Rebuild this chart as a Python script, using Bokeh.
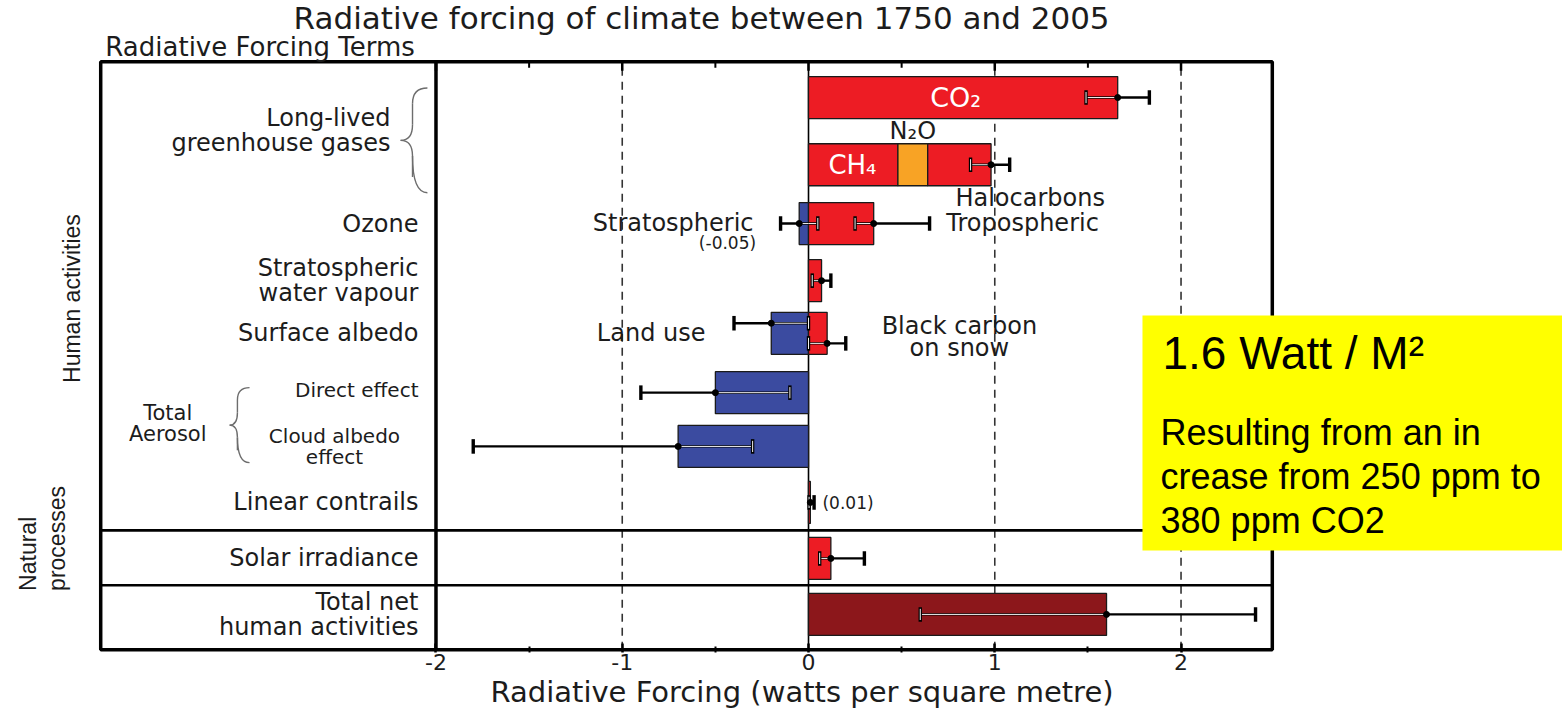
import numpy as np
from bokeh.plotting import figure
from bokeh.models import Range1d, FixedTicker, Title
from bokeh.core.properties import value
from bokeh.embed import file_html
from bokeh.resources import INLINE

# ------------------------------------------------------------------ data
terms = ["CO₂", "CH₄", "N₂O", "Halocarbons", "Stratospheric ozone", "Tropospheric ozone",
         "Stratospheric water vapour", "Land use", "Black carbon on snow",
         "Direct effect", "Cloud albedo effect", "Linear contrails", "Solar irradiance",
         "Total net human activities"]
forcing = [1.66, 0.48, 0.16, 0.34, -0.05, 0.35, 0.07, -0.20, 0.10, -0.50, -0.70, 0.01, 0.12, 1.60]
term_row = [0, 1, 1, 1, 2, 2, 3, 4, 4, 5, 6, 7, 8, 9]
term_kind = ["warm", "warm", "n2o", "warm", "cool", "warm", "warm", "cool", "warm",
             "cool", "cool", "warm", "warm", "total"]

err_row = [0, 1, 2, 2, 3, 4, 4, 5, 6, 7, 8, 9]
err_best = [1.66, 0.98, -0.05, 0.35, 0.07, -0.20, 0.10, -0.50, -0.70, 0.01, 0.12, 1.60]
err_low = [1.49, 0.87, -0.15, 0.25, 0.02, -0.40, 0.00, -0.90, -1.80, 0.003, 0.06, 0.60]
err_high = [1.83, 1.08, 0.05, 0.65, 0.12, 0.00, 0.20, -0.10, -0.30, 0.03, 0.30, 2.40]

row_labels = ["Long-lived\ngreenhouse gases", "", "Ozone", "Stratospheric\nwater vapour",
              "Surface albedo", "Direct effect", "Cloud albedo\neffect", "Linear contrails",
              "Solar irradiance", "Total net\nhuman activities"]

x_ticks = [-2, -1, 0, 1, 2]
x_tick_labels = ["-2", "-1", "0", "1", "2"]
x_minor_ticks = [-1.5, -0.5, 0.5, 1.5]
dashed_at = [-1, 1, 2]
x_title = "Radiative Forcing  (watts per square metre)"

note_title = "1.6 Watt / M²"
note_lines = ["Resulting from an in", "crease from 250 ppm to", "380 ppm CO2"]

# ------------------------------------------------------------------ layout / style
PX = 56.0                      # pixels per row unit
row_y = [9.86, 8.66, 7.61, 6.59, 5.65, 4.59, 3.63, 2.63, 1.63, 0.63]
bar_h = 0.75
err_shift = [0, 0, 0, 0, 0, 1, -1, 0, 0, 0, 0, 0]
frame_l, frame_r, frame_b, frame_t = -3.80, 2.49, 0.0, 10.50
label_x = -2.094
sep_y = [2.13, 1.15]
colors = {"warm": "#ED1C24", "cool": "#3B4BA0", "n2o": "#F8A325", "total": "#8C171B"}
TXT = "#1c1c1c"
F = "DejaVu Sans"
LS = "Liberation Sans"

p = figure(width=1562, height=709, x_range=Range1d(-4.338, 4.048),
           y_range=Range1d(-0.05, 11.593), output_backend="svg", toolbar_location=None,
           y_axis_location=None, min_border_left=0, min_border_right=0,
           min_border_top=0, min_border_bottom=57)
p.outline_line_color = None
p.grid.visible = False
p.background_fill_color = "white"
p.border_fill_color = "white"

ax = p.xaxis[0]
ax.ticker = FixedTicker(ticks=x_ticks, minor_ticks=x_minor_ticks)
ax.major_label_overrides = {t: l for t, l in zip(x_ticks, x_tick_labels)}
ax.axis_line_color = None
ax.major_tick_in = 9
ax.major_tick_out = 0
ax.major_tick_line_width = 2.5
ax.minor_tick_in = 6
ax.minor_tick_out = 0
ax.minor_tick_line_width = 2
ax.major_label_text_font = F
ax.major_label_text_font_size = "22px"
ax.major_label_text_color = TXT
ax.major_label_standoff = 1

# x-axis title placed under the axis, centred on x = 0
xt_size = 29
xt_width = 21.93 * xt_size
p.add_layout(Title(text=x_title, align="left", offset=808 - xt_width / 2, standoff=0,
                   text_font=F, text_font_size=f"{xt_size}px", text_font_style="normal",
                   text_color=TXT), "below")

# reference lines
p.segment(x0=dashed_at, y0=frame_b, x1=dashed_at, y1=frame_t, line_color="#333333",
          line_width=1.6, line_dash="8 6")
p.segment(x0=[0], y0=[frame_b], x1=[0], y1=[frame_t], line_color="black", line_width=1.6)

# bars (stacked within a row)
left, right = [], []
pos_acc, neg_acc = {}, {}
for v, r in zip(forcing, term_row):
    if v >= 0:
        a = pos_acc.get(r, 0.0)
        left.append(a); right.append(a + v); pos_acc[r] = a + v
    else:
        a = neg_acc.get(r, 0.0)
        right.append(a); left.append(a + v); neg_acc[r] = a + v
bar_y = [row_y[r] for r in term_row]
p.quad(left=left, right=right, bottom=[y - bar_h / 2 for y in bar_y],
       top=[y + bar_h / 2 for y in bar_y], fill_color=[colors[k] for k in term_kind],
       line_color="#1a1a1a", line_width=1.3)

# error bars
ey = [row_y[r] + s * 0.18 for r, s in zip(err_row, err_shift)]
cap = 0.13
p.segment(x0=err_low, y0=ey, x1=err_high, y1=ey, line_color="black", line_width=2.4)

def inside(xv, r):
    for l, rr, tr in zip(left, right, term_row):
        if tr == r and l - 1e-6 <= xv <= rr + 1e-6:
            return True
    return False

wx0, wx1, wy = [], [], []
for lo, hi, r, y in zip(err_low, err_high, err_row, ey):
    ivs = [(l, rr) for l, rr, tr in zip(left, right, term_row) if tr == r]
    for l, rr in ivs:
        a, b = max(lo, l), min(hi, rr)
        if b - a > 0.01:
            wx0.append(a); wx1.append(b); wy.append(y)
p.segment(x0=wx0, y0=wy, x1=wx1, y1=wy, line_color="#f2f2f2", line_width=1)

cx = list(err_low) + list(err_high)
cy = ey + ey
p.segment(x0=cx, y0=[y - cap for y in cy], x1=cx, y1=[y + cap for y in cy],
          line_color="black", line_width=3.4)
ix = [x for x, r in zip(cx, err_row + err_row) if inside(x, r)]
iy = [y for x, r, y in zip(cx, err_row + err_row, cy) if inside(x, r)]
p.segment(x0=ix, y0=[y - cap + 0.03 for y in iy], x1=ix, y1=[y + cap - 0.03 for y in iy],
          line_color="#f2f2f2", line_width=1)
p.scatter(x=err_best, y=ey, size=6, color="black")

# frame, separators, label column divider, top ticks
p.quad(left=[frame_l], right=[frame_r], bottom=[frame_b], top=[frame_t], fill_color=None,
       line_color="black", line_width=3.5)
p.segment(x0=[-2], y0=[frame_b], x1=[-2], y1=[frame_t], line_color="black", line_width=3.5)
p.segment(x0=[frame_l] * 2, y0=sep_y, x1=[frame_r] * 2, y1=sep_y, line_color="black",
          line_width=2.6)
p.segment(x0=x_ticks, y0=[frame_t] * 5, x1=x_ticks, y1=[frame_t - 9 / PX] * 5,
          line_color="black", line_width=2.5)
p.segment(x0=x_minor_ticks, y0=[frame_t] * 4, x1=x_minor_ticks, y1=[frame_t - 6 / PX] * 4,
          line_color="black", line_width=2)

# row labels
main_idx = [2, 3, 4, 7, 8, 9]
p.text(x=[label_x] * len(main_idx), y=[row_y[i] for i in main_idx],
       text=[row_labels[i] for i in main_idx], text_font=value(F), text_font_size="24px",
       text_align="right", text_baseline="middle", text_color=TXT, text_line_height=0.9)
p.text(x=[-2.244], y=[9.27], text=[row_labels[0]], text_font=value(F),
       text_font_size="24px", text_align="right", text_baseline="middle", text_color=TXT,
       text_line_height=0.9)
p.text(x=[label_x], y=[row_y[5] + 0.05], text=[row_labels[5]], text_font=value(F),
       text_font_size="20px", text_align="right", text_baseline="middle", text_color=TXT)
p.text(x=[-2.545], y=[row_y[6]], text=[row_labels[6]], text_font=value(F),
       text_font_size="20px", text_align="center", text_baseline="middle", text_color=TXT,
       text_line_height=0.9)
p.text(x=[-3.44], y=[4.04], text=["Total\nAerosol"], text_font=value(F),
       text_font_size="21px", text_align="center", text_baseline="middle", text_color=TXT,
       text_line_height=0.9)

# curly braces
def brace(x_end, x_spine, x_tip, y_top, y_bot, hook):
    ym = (y_top + y_bot) / 2
    p.quadratic(x0=[x_end, x_spine, x_tip, x_spine],
                y0=[y_top, ym + hook, ym, ym - hook],
                x1=[x_spine, x_tip, x_spine, x_end],
                y1=[y_top - hook, ym, ym - hook, y_bot],
                cx=[x_spine, x_spine, x_spine, x_spine],
                cy=[y_top, ym, ym, y_bot], line_color="#6d6d6d", line_width=1.4)
    p.segment(x0=[x_spine, x_spine], y0=[y_top - hook, ym - hook],
              x1=[x_spine, x_spine], y1=[ym + hook, y_bot + hook],
              line_color="#6d6d6d", line_width=1.4)

brace(-2.046, -2.126, -2.19, 10.03, 8.16, 0.28)
brace(-3.001, -3.066, -3.108, 4.68, 3.34, 0.22)

# in-plot annotations
p.text(x=[0.79], y=[row_y[0]], text=["CO₂"], text_font=value(F), text_font_size="27px",
       text_color="white", text_align="center", text_baseline="middle")
p.text(x=[0.236], y=[row_y[1]], text=["CH₄"], text_font=value(F), text_font_size="26px",
       text_color="white", text_align="center", text_baseline="middle")
p.text(x=[0.56], y=[9.27], text=["N₂O"], text_font=value(F), text_font_size="24px",
       text_color=TXT, text_align="center", text_baseline="middle")
p.text(x=[1.19], y=[8.07], text=["Halocarbons"], text_font=value(F), text_font_size="24px",
       text_color=TXT, text_align="center", text_baseline="middle")
p.text(x=[-0.295], y=[7.62], text=["Stratospheric"], text_font=value(F),
       text_font_size="24px", text_color=TXT, text_align="right", text_baseline="middle")
p.text(x=[-0.435], y=[7.26], text=["(-0.05)"], text_font=value(F), text_font_size="17px",
       text_color=TXT, text_align="center", text_baseline="middle")
p.text(x=[0.74], y=[7.62], text=["Tropospheric"], text_font=value(F),
       text_font_size="24px", text_color=TXT, text_align="left", text_baseline="middle")
p.text(x=[-0.553], y=[5.65], text=["Land use"], text_font=value(F), text_font_size="24px",
       text_color=TXT, text_align="right", text_baseline="middle")
p.text(x=[0.81], y=[5.58], text=["Black carbon\non snow"], text_font=value(F),
       text_font_size="24px", text_color=TXT, text_align="center", text_baseline="middle",
       text_line_height=0.8)
p.text(x=[0.075], y=[2.62], text=["(0.01)"], text_font=value(F), text_font_size="17px",
       text_color=TXT, text_align="left", text_baseline="middle")

# headings
p.text(x=[-0.574], y=[11.28], text=["Radiative forcing of climate between 1750 and 2005"],
       text_font=value(F), text_font_size="31px", text_color=TXT, text_align="center",
       text_baseline="middle")
p.text(x=[-3.775], y=[10.77], text=["Radiative Forcing Terms"], text_font=value(F),
       text_font_size="26px", text_color=TXT, text_align="left", text_baseline="middle")

p.text(x=[-3.952], y=[6.27], text=["Human activities"], angle=np.pi / 2,
       text_font=value(LS), text_font_size="23px", text_color=TXT, text_align="center",
       text_baseline="middle")
p.text(x=[-4.188, -4.032], y=[1.05, 1.05], text=["Natural", "processes"], angle=np.pi / 2,
       text_font=value(LS), text_font_size="23px", text_color=TXT, text_align="left",
       text_baseline="middle")

# yellow note box
p.quad(left=[1.793], right=[4.2], bottom=[1.77], top=[5.97], fill_color="#FFFF00",
       line_color=None)
p.text(x=[1.90], y=[5.29], text=[note_title], text_font=value(LS),
       text_font_size="46px", text_color="black", text_align="left", text_baseline="middle")
p.text(x=[1.89] * 3, y=[3.88, 3.09, 2.30], text=note_lines,
       text_font=value(LS), text_font_size="36px", text_color="black",
       text_align="left", text_baseline="middle")

open("out.html", "w").write(file_html(p, INLINE))
